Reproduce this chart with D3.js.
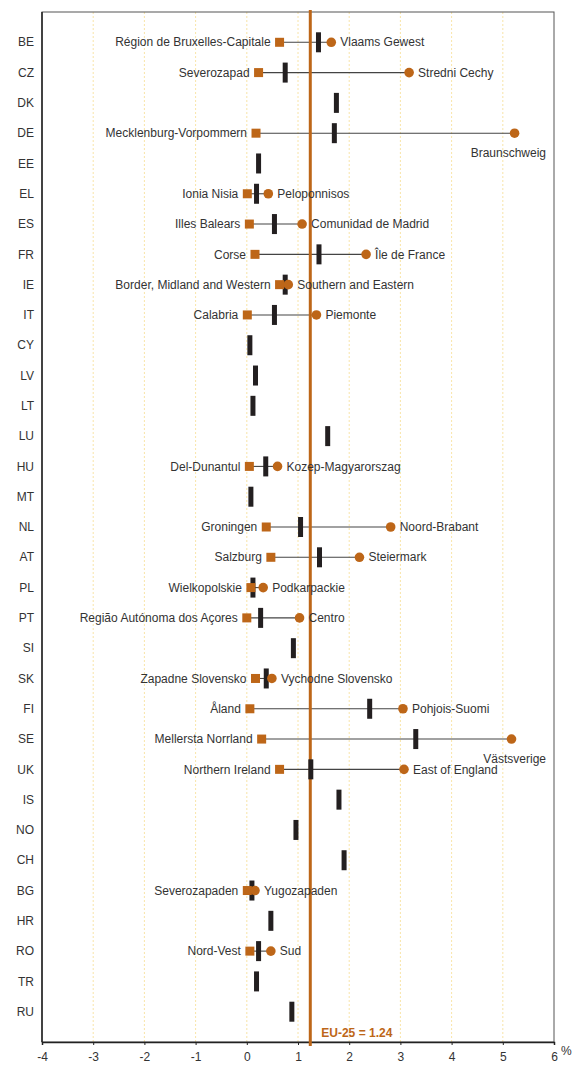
<!DOCTYPE html>
<html>
<head>
<meta charset="utf-8">
<script src="https://cdn.jsdelivr.net/npm/d3@7"></script>
<style>
  body { margin: 0; background: #fff; }
  svg { font-family: "Liberation Sans", Arial, sans-serif; }
</style>
</head>
<body>
<svg id="chart" width="574" height="1066"></svg>
<script>
// national value and lowest / highest region per country (%)
const countries = ['BE', 'CZ', 'DK', 'DE', 'EE', 'EL', 'ES', 'FR', 'IE', 'IT', 'CY', 'LV', 'LT', 'LU',
  'HU', 'MT', 'NL', 'AT', 'PL', 'PT', 'SI', 'SK', 'FI', 'SE', 'UK', 'IS', 'NO', 'CH', 'BG', 'HR', 'RO', 'TR', 'RU'];
const nationalValues = [1.40, 0.75, 1.75, 1.71, 0.23, 0.19, 0.54, 1.41, 0.75, 0.54, 0.06, 0.17, 0.12, 1.58,
  0.37, 0.08, 1.05, 1.42, 0.12, 0.27, 0.91, 0.38, 2.40, 3.30, 1.25, 1.80, 0.96, 1.90, 0.10, 0.47, 0.23, 0.19, 0.88];
const minRegions = ['Région de Bruxelles-Capitale', 'Severozapad', null, 'Mecklenburg-Vorpommern', null,
  'Ionia Nisia', 'Illes Balears', 'Corse', 'Border, Midland and Western', 'Calabria', null, null, null, null,
  'Del-Dunantul', null, 'Groningen', 'Salzburg', 'Wielkopolskie', 'Região Autónoma dos Açores', null,
  'Zapadne Slovensko', 'Åland', 'Mellersta Norrland', 'Northern Ireland', null, null, null,
  'Severozapaden', null, 'Nord-Vest', null, null];
const minValues = [0.64, 0.23, null, 0.18, null, 0.01, 0.05, 0.16, 0.64, 0.01, null, null, null, null,
  0.05, null, 0.38, 0.47, 0.08, 0.00, null, 0.17, 0.06, 0.29, 0.64, null, null, null, 0.01, null, 0.06, null, null];
const maxRegions = ['Vlaams Gewest', 'Stredni Cechy', null, 'Braunschweig', null,
  'Peloponnisos', 'Comunidad de Madrid', 'Île de France', 'Southern and Eastern', 'Piemonte', null, null, null, null,
  'Kozep-Magyarorszag', null, 'Noord-Brabant', 'Steiermark', 'Podkarpackie', 'Centro', null,
  'Vychodne Slovensko', 'Pohjois-Suomi', 'Västsverige', 'East of England', null, null, null,
  'Yugozapaden', null, 'Sud', null, null];
const maxValues = [1.65, 3.17, null, 5.23, null, 0.42, 1.08, 2.33, 0.81, 1.36, null, null, null, null,
  0.60, null, 2.81, 2.20, 0.32, 1.03, null, 0.49, 3.05, 5.17, 3.07, null, null, null, 0.16, null, 0.47, null, null];
// max labels that sit under the marker
const labelBelow = ['DE', 'SE'];
const euValue = 1.24;
const xTicks = [-4, -3, -2, -1, 0, 1, 2, 3, 4, 5, 6];

const orange = '#bd6618';
const ink = '#333333';
const plotLeft = 42, plotRight = 554, plotTop = 12, plotBottom = 1042;

const svg = d3.select('#chart');

const x = d3.scaleLinear().domain([-4, 6]).range([plotLeft, plotRight]);
const y = d3.scalePoint().domain(countries).range([plotTop, plotBottom]).padding(1);

const rows = countries.map((c, i) => ({
  country: c,
  value: nationalValues[i],
  minName: minRegions[i],
  min: minValues[i],
  maxName: maxRegions[i],
  max: maxValues[i]
}));
const withRegions = rows.filter(d => d.min !== null);

// grid
svg.append('g')
  .selectAll('line')
  .data(xTicks.slice(1, -1))
  .join('line')
  .attr('x1', d => x(d)).attr('x2', d => x(d))
  .attr('y1', plotTop).attr('y2', plotBottom)
  .style('stroke', '#f6dd92')
  .style('stroke-width', 0.8)
  .style('stroke-dasharray', '2,2');

// frame
svg.append('rect')
  .attr('x', plotLeft).attr('y', plotTop)
  .attr('width', plotRight - plotLeft).attr('height', plotBottom - plotTop)
  .style('fill', 'none')
  .style('stroke', '#555')
  .style('stroke-width', 1);
svg.append('line')
  .attr('x1', plotLeft).attr('x2', plotLeft).attr('y1', plotTop).attr('y2', plotBottom)
  .style('stroke', '#222').style('stroke-width', 1.5);

// x axis
const xAxis = d3.axisBottom(x).tickValues(xTicks).tickSize(3).tickPadding(7).tickFormat(d3.format('d'));
const gx = svg.append('g')
  .attr('transform', `translate(0, ${plotBottom})`)
  .call(xAxis);
gx.select('.domain').style('stroke', '#222').style('stroke-width', 1.5);
gx.selectAll('.tick line').style('stroke', '#222');
gx.selectAll('.tick text')
  .style('font-size', '12px')
  .style('fill', ink)
  .style('font-family', '"Liberation Sans", Arial, sans-serif')
  .text(d => d < 0 ? '-' + Math.abs(d) : d);
svg.append('text')
  .attr('x', 561).attr('y', 1055)
  .style('font-size', '12px')
  .style('fill', ink)
  .text('%');

// country labels
svg.append('g')
  .selectAll('text')
  .data(countries)
  .join('text')
  .attr('x', 34)
  .attr('y', d => y(d))
  .attr('dy', '0.35em')
  .attr('text-anchor', 'end')
  .style('font-size', '12px')
  .style('fill', ink)
  .text(d => d);

// min-max connectors
svg.append('g')
  .selectAll('line')
  .data(withRegions)
  .join('line')
  .attr('x1', d => x(d.min)).attr('x2', d => x(d.max))
  .attr('y1', d => y(d.country)).attr('y2', d => y(d.country))
  .style('stroke', '#444')
  .style('stroke-width', 1.1);

// EU-25 average
svg.append('line')
  .attr('x1', x(euValue)).attr('x2', x(euValue))
  .attr('y1', plotTop - 2).attr('y2', plotBottom + 4)
  .style('stroke', orange)
  .style('stroke-width', 3);
svg.append('text')
  .attr('x', x(euValue) + 11)
  .attr('y', 1037)
  .style('font-size', '12px')
  .style('font-weight', 'bold')
  .style('fill', orange)
  .text(`EU-25 = ${euValue}`);

// national values
svg.append('g')
  .selectAll('rect')
  .data(rows)
  .join('rect')
  .attr('x', d => x(d.value) - 2.5)
  .attr('y', d => y(d.country) - 10)
  .attr('width', 5)
  .attr('height', 20)
  .style('fill', '#231f20');

// lowest region
svg.append('g')
  .selectAll('rect')
  .data(withRegions)
  .join('rect')
  .attr('x', d => x(d.min) - 4.5)
  .attr('y', d => y(d.country) - 4.5)
  .attr('width', 9)
  .attr('height', 9)
  .style('fill', orange);

// highest region
svg.append('g')
  .selectAll('circle')
  .data(withRegions)
  .join('circle')
  .attr('cx', d => x(d.max))
  .attr('cy', d => y(d.country))
  .attr('r', 4.8)
  .style('fill', orange);

// region labels
svg.append('g')
  .selectAll('text')
  .data(withRegions)
  .join('text')
  .attr('x', d => x(d.min) - 9)
  .attr('y', d => y(d.country))
  .attr('dy', '0.35em')
  .attr('text-anchor', 'end')
  .style('font-size', '12px')
  .style('fill', ink)
  .text(d => d.minName);

svg.append('g')
  .selectAll('text')
  .data(withRegions)
  .join('text')
  .attr('x', d => labelBelow.includes(d.country) ? plotRight - 8 : x(d.max) + 9)
  .attr('y', d => labelBelow.includes(d.country) ? y(d.country) + 20 : y(d.country))
  .attr('dy', '0.35em')
  .attr('text-anchor', d => labelBelow.includes(d.country) ? 'end' : 'start')
  .style('font-size', '12px')
  .style('fill', ink)
  .text(d => d.maxName);
</script>
</body>
</html>
